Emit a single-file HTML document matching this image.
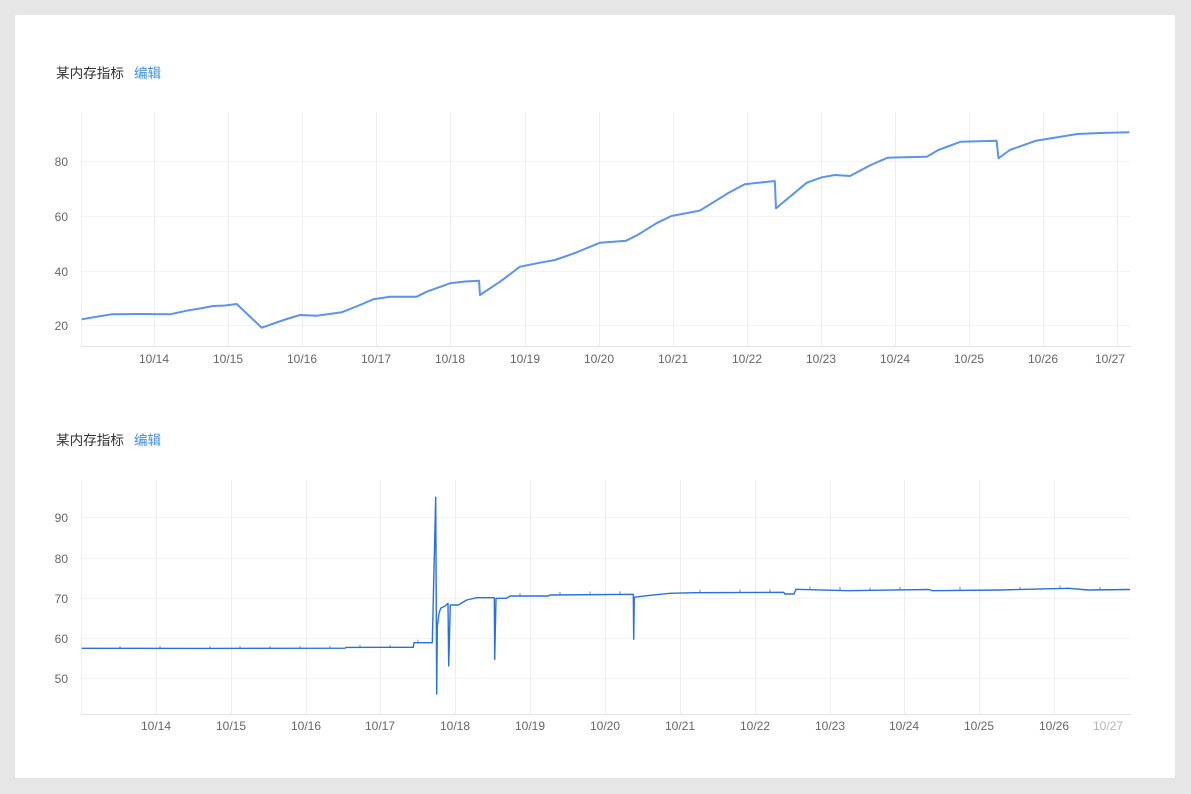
<!DOCTYPE html>
<html>
<head>
<meta charset="utf-8">
<style>
  html,body{margin:0;padding:0;background:#e6e6e6;}
  body{width:1191px;height:794px;position:relative;overflow:hidden;font-family:"Liberation Sans","Noto Sans CJK SC",sans-serif;}
  .card{position:absolute;left:15px;top:15px;width:1160px;height:763px;background:#fff;border-radius:2px;}
  .title{position:absolute;font-size:13.6px;color:#333;font-family:"Liberation Sans","Noto Sans CJK SC",sans-serif;line-height:16px;}
  .title span{color:#3f8fe8;margin-left:10px;}
  svg{position:absolute;left:0;top:0;}
  svg text{font-family:"Liberation Sans",sans-serif;font-size:12px;fill:#666;}
</style>
</head>
<body>
<div class="card"></div>
<div class="title" style="left:56px;top:66px;">某内存指标<span>编辑</span></div>
<div class="title" style="left:56px;top:433px;">某内存指标<span>编辑</span></div>

<svg width="1191" height="794" viewBox="0 0 1191 794">
  <!-- ===== Top chart ===== -->
  <g stroke="#ededed" stroke-width="1" fill="none" shape-rendering="crispEdges">
    <line x1="81.5" y1="112" x2="81.5" y2="347"/>
    <line x1="154.5" y1="112" x2="154.5" y2="347"/>
    <line x1="228.5" y1="112" x2="228.5" y2="347"/>
    <line x1="302.5" y1="112" x2="302.5" y2="347"/>
    <line x1="376.5" y1="112" x2="376.5" y2="347"/>
    <line x1="450.5" y1="112" x2="450.5" y2="347"/>
    <line x1="525.5" y1="112" x2="525.5" y2="347"/>
    <line x1="599.5" y1="112" x2="599.5" y2="347"/>
    <line x1="673.5" y1="112" x2="673.5" y2="347"/>
    <line x1="747.5" y1="112" x2="747.5" y2="347"/>
    <line x1="821.5" y1="112" x2="821.5" y2="347"/>
    <line x1="895.5" y1="112" x2="895.5" y2="347"/>
    <line x1="969.5" y1="112" x2="969.5" y2="347"/>
    <line x1="1043.5" y1="112" x2="1043.5" y2="347"/>
    <line x1="1117.5" y1="112" x2="1117.5" y2="347"/>
  </g>
  <g stroke="#f3f3f3" stroke-width="1" shape-rendering="crispEdges">
    <line x1="82" y1="161.5" x2="1131" y2="161.5"/>
    <line x1="82" y1="216.5" x2="1131" y2="216.5"/>
    <line x1="82" y1="271.5" x2="1131" y2="271.5"/>
    <line x1="82" y1="325.5" x2="1131" y2="325.5"/>
  </g>
  <line x1="81" y1="346.5" x2="1131" y2="346.5" stroke="#e3e3e3" stroke-width="1" shape-rendering="crispEdges"/>
  <g text-anchor="end">
    <text x="68" y="166">80</text>
    <text x="68" y="221">60</text>
    <text x="68" y="276">40</text>
    <text x="68" y="330">20</text>
  </g>
  <g text-anchor="middle">
    <text x="154" y="363">10/14</text>
    <text x="228" y="363">10/15</text>
    <text x="302" y="363">10/16</text>
    <text x="376" y="363">10/17</text>
    <text x="450" y="363">10/18</text>
    <text x="525" y="363">10/19</text>
    <text x="599" y="363">10/20</text>
    <text x="673" y="363">10/21</text>
    <text x="747" y="363">10/22</text>
    <text x="821" y="363">10/23</text>
    <text x="895" y="363">10/24</text>
    <text x="969" y="363">10/25</text>
    <text x="1043" y="363">10/26</text>
    <text x="1110" y="363">10/27</text>
  </g>
  <polyline fill="none" stroke="#5b93f0" stroke-width="2" stroke-linejoin="round" points="
    81.7,319.3 95,317 111.7,314.3 140,314 170,314.3 186.7,310.7 200,308.5 213.3,306 225,305.5 236.7,304
    261.7,327.7 286.7,319 300,315 316.7,315.7 341.7,312.3 360,305 373.3,299.3 390,296.7 416.7,296.7
    426.7,291.7 450,283.3 465,281.5 479,280.7 480,295 500,281.7 520,266.7 540,262.7 555,260 575,253
    600,242.7 626.2,240.7 637.5,235 656.3,223.3 671.4,216 699.6,210.7 709,205 727.8,193.3 744.7,184.3
    774.8,181 776,208.3 788,198.3 806.8,182.7 821.8,177.3 835,175 850,176 870.7,165 887.6,157.7
    927,156.7 938.3,150 960.8,141.7 996.6,140.7 998.5,158.3 1009.8,150 1036,140.7 1051.2,138.3
    1077.5,134 1100,133 1129.4,132.3"/>

  <!-- ===== Bottom chart ===== -->
  <g stroke="#ededed" stroke-width="1" fill="none" shape-rendering="crispEdges">
    <line x1="81.5" y1="480" x2="81.5" y2="714"/>
    <line x1="156.5" y1="480" x2="156.5" y2="714"/>
    <line x1="231.5" y1="480" x2="231.5" y2="714"/>
    <line x1="306.5" y1="480" x2="306.5" y2="714"/>
    <line x1="380.5" y1="480" x2="380.5" y2="714"/>
    <line x1="455.5" y1="480" x2="455.5" y2="714"/>
    <line x1="530.5" y1="480" x2="530.5" y2="714"/>
    <line x1="605.5" y1="480" x2="605.5" y2="714"/>
    <line x1="680.5" y1="480" x2="680.5" y2="714"/>
    <line x1="755.5" y1="480" x2="755.5" y2="714"/>
    <line x1="830.5" y1="480" x2="830.5" y2="714"/>
    <line x1="904.5" y1="480" x2="904.5" y2="714"/>
    <line x1="979.5" y1="480" x2="979.5" y2="714"/>
    <line x1="1054.5" y1="480" x2="1054.5" y2="714"/>
  </g>
  <g stroke="#f3f3f3" stroke-width="1" shape-rendering="crispEdges">
    <line x1="82" y1="517.5" x2="1131" y2="517.5"/>
    <line x1="82" y1="558.5" x2="1131" y2="558.5"/>
    <line x1="82" y1="598.5" x2="1131" y2="598.5"/>
    <line x1="82" y1="638.5" x2="1131" y2="638.5"/>
    <line x1="82" y1="678.5" x2="1131" y2="678.5"/>
  </g>
  <line x1="81" y1="714.5" x2="1131" y2="714.5" stroke="#e3e3e3" stroke-width="1" shape-rendering="crispEdges"/>
  <g text-anchor="end">
    <text x="68" y="522">90</text>
    <text x="68" y="563">80</text>
    <text x="68" y="603">70</text>
    <text x="68" y="643">60</text>
    <text x="68" y="683">50</text>
  </g>
  <g text-anchor="middle">
    <text x="156" y="730">10/14</text>
    <text x="231" y="730">10/15</text>
    <text x="306" y="730">10/16</text>
    <text x="380" y="730">10/17</text>
    <text x="455" y="730">10/18</text>
    <text x="530" y="730">10/19</text>
    <text x="605" y="730">10/20</text>
    <text x="680" y="730">10/21</text>
    <text x="755" y="730">10/22</text>
    <text x="830" y="730">10/23</text>
    <text x="904" y="730">10/24</text>
    <text x="979" y="730">10/25</text>
    <text x="1054" y="730">10/26</text>
    <text x="1108" y="730" style="fill:#b5b5b5">10/27</text>
  </g>
  <polyline fill="none" stroke="#2a6fe0" stroke-width="1.4" stroke-linejoin="round" points="
    81.7,648.3 200,648.4 345,648.2 346,647.4 413.3,647.3 414,642.7 432.3,642.7 435.7,497.3 436.7,694
    437.3,626.7 439,613.3 440.7,608.3 445,606 448,603.3 448.7,666 450.3,605 458.3,605 466.7,600
    476.7,597.7 494.3,597.7 494.7,659.3 496,598.3 506.7,598.3 510,596 548.3,596 550,595 633.3,594.3
    633.7,639.3 634.3,597.3 646.7,595.7 669.9,593.3 694.4,592.7 783.6,592.3 785,594 794,594 795.9,589.3
    848.3,590.7 928.8,589.5 932.3,590.7 1000,590 1068.8,588.3 1088,590 1130,589.5"/>
  <!-- small noise ticks -->
  <g stroke="#2a6fe0" stroke-width="1" opacity="0.8">
    <path d="M120,648v-2 M160,648v-2 M210,648v-2 M240,648v-2 M270,648v-2 M300,648v-2 M330,648v-2 M360,647v-2 M390,647v-2 M418,642.7v-3
             M520,596v-3 M560,595v-3 M590,594.5v-3 M620,594.3v-3 M700,592.7v-3 M740,592.5v-3 M770,592.3v-3
             M810,589.5v-3 M840,590v-3 M870,590.5v-3 M900,590v-3 M960,590v-3 M1020,589.7v-3 M1060,588.5v-3 M1100,589.8v-3"/>
  </g>
</svg>
</body>
</html>
